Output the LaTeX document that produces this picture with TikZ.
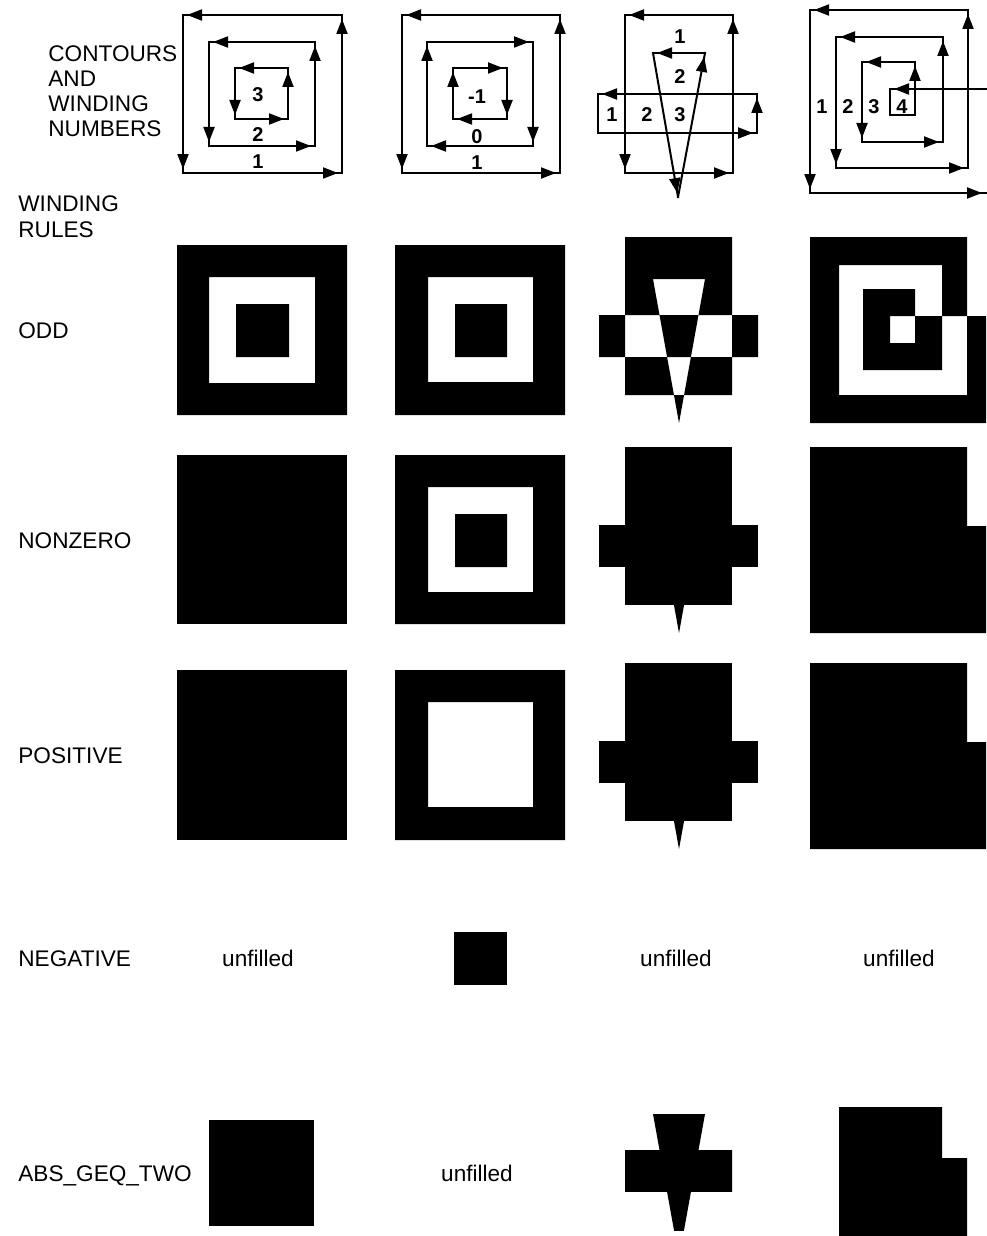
\documentclass[tikz,border=0pt]{standalone}
\usepackage{fontspec}
\setmainfont{Liberation Sans}
\usetikzlibrary{arrows.meta,decorations.markings}
\tikzset{
  contour/.style={line width=1pt, line cap=rect},
  seg/.style={contour, postaction={decorate}, decoration={markings, mark=at position -2pt with {\arrow{Triangle[length=7.5pt,width=5.5pt]}}}},
  lab/.style={font=\fontsize{11.3}{12.5}\selectfont, inner sep=0pt, anchor=base west},
  multilab/.style={font=\fontsize{11.3}{12.5}\selectfont, inner sep=0pt, anchor=north west, align=left},
  num/.style={font=\bfseries\fontsize{10}{12}\selectfont, inner sep=0pt},
  unf/.style={font=\fontsize{11.3}{12}\selectfont, inner sep=0pt, anchor=base},
}
\newcommand\loopccw[4]{%
  \draw[seg] (#3,#2) -- (#1,#2);
  \draw[seg] (#1,#2) -- (#1,#4);
  \draw[seg] (#1,#4) -- (#3,#4);
  \draw[seg] (#3,#4) -- (#3,#2);}
\newcommand\loopcw[4]{%
  \draw[seg] (#1,#2) -- (#3,#2);
  \draw[seg] (#3,#2) -- (#3,#4);
  \draw[seg] (#3,#4) -- (#1,#4);
  \draw[seg] (#1,#4) -- (#1,#2);}
% column 3 filled pieces, top at #1
\newcommand\vrect[1]{(625,#1) rectangle (732,#1+158)}
\newcommand\hrect[1]{(599,#1+78) rectangle (758,#1+120)}
\newcommand\tri[1]{(653,#1+42) -- (705,#1+42) -- (679,#1+186) -- cycle}
% column 4 filled spiral, top at #1
\newcommand\spiral[1]{(986,#1+79) -- (890,#1+79) -- (890,#1+106) -- (915,#1+106) -- (915,#1+52) -- (863,#1+52) -- (863,#1+133) -- (942,#1+133) -- (942,#1+28) -- (839,#1+28) -- (839,#1+158) -- (967,#1+158) -- (967,#1) -- (810,#1) -- (810,#1+186) -- (986,#1+186) -- cycle}
\begin{document}
\begin{tikzpicture}[x=0.5pt,y=-0.5pt]
\fill[white] (0,0) rectangle (986,1236);
\useasboundingbox (0,0) rectangle (986,1236);

% ---------- labels ----------
\node[multilab] (lcont) at (48,45) {CONTOURS\\AND\\WINDING\\NUMBERS};
\node[multilab, font=\fontsize{11.3}{13}\selectfont] (lrules) at (18,195) {WINDING\\RULES};
\node[lab] (lodd) at (18,338) {ODD};
\node[lab] (lnz) at (18,548) {NONZERO};
\node[lab] (lpos) at (18,763) {POSITIVE};
\node[lab] (lneg) at (18,966) {NEGATIVE};
\node[lab] (labs) at (18,1181) {ABS\_GEQ\_TWO};

% ---------- contours, column 1 ----------
\loopccw{183}{15}{342}{173}
\loopccw{209}{42}{315}{146}
\loopccw{235}{68}{288}{119}
\node[num] (c1a) at (258,95) {3};
\node[num] (c1b) at (258,135) {2};
\node[num] (c1c) at (258,162) {1};

% ---------- contours, column 2 ----------
\loopccw{402}{15}{560}{173}
\loopcw{427}{42}{533}{146}
\loopcw{453}{68}{507}{119}
\node[num] (c2a) at (477,97) {-1};
\node[num] (c2b) at (477,137) {0};
\node[num] (c2c) at (477,163) {1};

% ---------- contours, column 3 ----------
\loopccw{625}{15}{733}{173}
\draw[seg] (757,94) -- (598,94);
\draw[contour] (598,94) -- (598,133);
\draw[seg] (598,133) -- (757,133);
\draw[seg] (757,133) -- (757,94);
\draw[seg] (705,53) -- (653,53);
\draw[seg] (653,53) -- (678,197);
\draw[seg] (678,197) -- (705,53);
\node[num] (c3a) at (680,37) {1};
\node[num] (c3b) at (680,77) {2};
\node[num] (c3c) at (612,115) {1};
\node[num] (c3d) at (647,115) {2};
\node[num] (c3e) at (680,115) {3};

% ---------- contours, column 4 (spiral) ----------
\draw[seg] (986,89) -- (890,89);
\draw[contour] (890,89) -- (890,115) -- (915,115);
\draw[seg] (915,115) -- (915,62);
\draw[seg] (915,62) -- (862,62);
\draw[seg] (862,62) -- (862,142);
\draw[seg] (862,142) -- (943,142);
\draw[seg] (943,142) -- (943,37);
\draw[seg] (943,37) -- (836,37);
\draw[seg] (836,37) -- (836,168);
\draw[seg] (836,168) -- (968,168);
\draw[seg] (968,168) -- (968,10);
\draw[seg] (968,10) -- (810,10);
\draw[seg] (810,10) -- (810,193);
\draw[seg] (810,193) -- (986,193);
\node[num] (c4a) at (822,107) {1};
\node[num] (c4b) at (848,107) {2};
\node[num] (c4c) at (874,107) {3};
\node[num] (c4d) at (902,107) {4};

% ---------- ODD ----------
\fill[even odd rule] (177,245) rectangle (347,415) (209,277) rectangle (315,383) (236,304) rectangle (289,357);
\fill[even odd rule] (395,245) rectangle (565,415) (428,277) rectangle (533,382) (455,304) rectangle (507,357);
\fill[even odd rule] \vrect{237} \hrect{237} \tri{237};
\fill[even odd rule] \spiral{237};

% ---------- NONZERO ----------
\fill (177,455) rectangle (347,624);
\fill[even odd rule] (395,455) rectangle (565,624) (428,487) rectangle (533,592) (455,514) rectangle (507,567);
\fill \vrect{447}; \fill \hrect{447}; \fill \tri{447};
\fill[nonzero rule] \spiral{447};

% ---------- POSITIVE ----------
\fill (177,670) rectangle (347,840);
\fill[even odd rule] (395,670) rectangle (565,840) (428,702) rectangle (533,807);
\fill \vrect{663}; \fill \hrect{663}; \fill \tri{663};
\fill[nonzero rule] \spiral{663};

% ---------- NEGATIVE ----------
\node[unf] (n1) at (258,966) {unfilled};
\fill (454,932) rectangle (507,985);
\node[unf] (n3) at (676,966) {unfilled};
\node[unf] (n4) at (899,966) {unfilled};

% ---------- ABS_GEQ_TWO ----------
\fill (209,1120) rectangle (314,1226);
\node[unf] (a2) at (477,1181) {unfilled};
\begin{scope}
  \clip \vrect{1072};
  \fill \hrect{1072};
  \fill \tri{1072};
\end{scope}
\fill (839,1107) -- (942,1107) -- (942,1158) -- (967,1158) -- (967,1240) -- (839,1240) -- cycle;
\end{tikzpicture}
\end{document}
